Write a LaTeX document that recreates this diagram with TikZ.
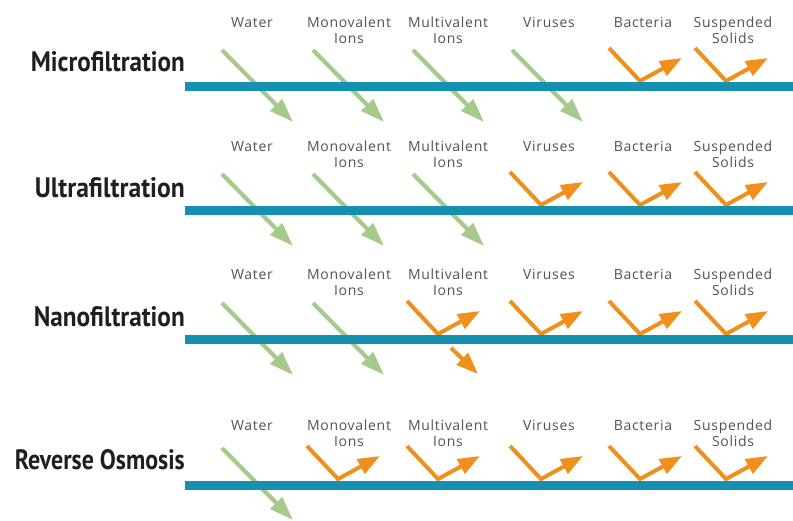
\documentclass[tikz,border=0pt]{standalone}
\usepackage{graphicx}
\usepackage{fontspec}
\setmainfont{Open Sans}
\newfontfamily\lblfont[LetterSpace=5]{Open Sans}
\newfontfamily\titlefont{PT Sans}
\usetikzlibrary{arrows.meta}
\definecolor{membr}{HTML}{1590B0}
\definecolor{passc}{HTML}{A6CA8C}
\definecolor{rejc}{HTML}{F0901C}
\tikzset{
  lbl/.style={font=\lblfont\fontsize{14}{16}\selectfont, text=black!68, align=center, inner sep=0pt, anchor=north},
  ttl/.style={anchor=east, inner sep=0pt, text=black!88},
  passarr/.style={draw=passc, line width=4.2pt, -{Triangle[length=24pt,width=16pt]}},
  rejarr/.style={draw=rejc, line width=4pt, -{Triangle[length=22pt,width=16pt]}},
  membrane/.style={draw=membr, line width=9pt},
}
\begin{document}
\begin{tikzpicture}[x=1pt,y=-1pt]
\useasboundingbox (0,0) rectangle (793,521);
\foreach \B/\T/\Y/\W/\name/\k [count=\r] in {
  87/17/62/154/Microfiltration/4,
  211/141/188/150/Ultrafiltration/3,
  340/269/317/151/Nanofiltration/2,
  485/420/460/170/Reverse Osmosis/1}{
  \node[ttl] (title\r) at (185,\Y) {\resizebox{\W pt}{20pt}{\titlefont\bfseries \name}};
  \foreach \lx/\lt [count=\i] in {252/Water, 349/Monovalent\\Ions, 448/Multivalent\\Ions, 549/Viruses, 643/Bacteria, 733/Suspended\\Solids}{
    \node[lbl] (lab\r-\i) at (\lx,\T) {\lt};
  }
  \foreach \gx [count=\i] in {222,313,413,512}{
    \ifnum\i>\k\relax\else
      \coordinate (g\r-\i s) at (\gx,\B-37);
      \coordinate (g\r-\i e) at (\gx+71,\B+35);
      \draw[passarr] (g\r-\i s) -- (g\r-\i e);
    \fi
  }
  \foreach \ox [count=\i] in {307,407,510,609,695}{
    \ifnum\i<\k\relax\else
      \coordinate (o\r-\i a) at (\ox,\B-39);
      \coordinate (o\r-\i b) at (\ox+31,\B-6);
      \coordinate (o\r-\i c) at (\ox+73,\B-29);
      \draw[rejarr] (o\r-\i a) -- (o\r-\i b) -- (o\r-\i c);
    \fi
  }
  \coordinate (m\r l) at (185,\B);
  \coordinate (m\r r) at (793,\B);
  \draw[membrane] (m\r l) -- (m\r r);
}
% partial passage of multivalent ions in nanofiltration
\coordinate (np s) at (451,348);
\coordinate (np e) at (478,374);
\draw[rejarr] (np s) -- (np e);
\end{tikzpicture}
\end{document}
